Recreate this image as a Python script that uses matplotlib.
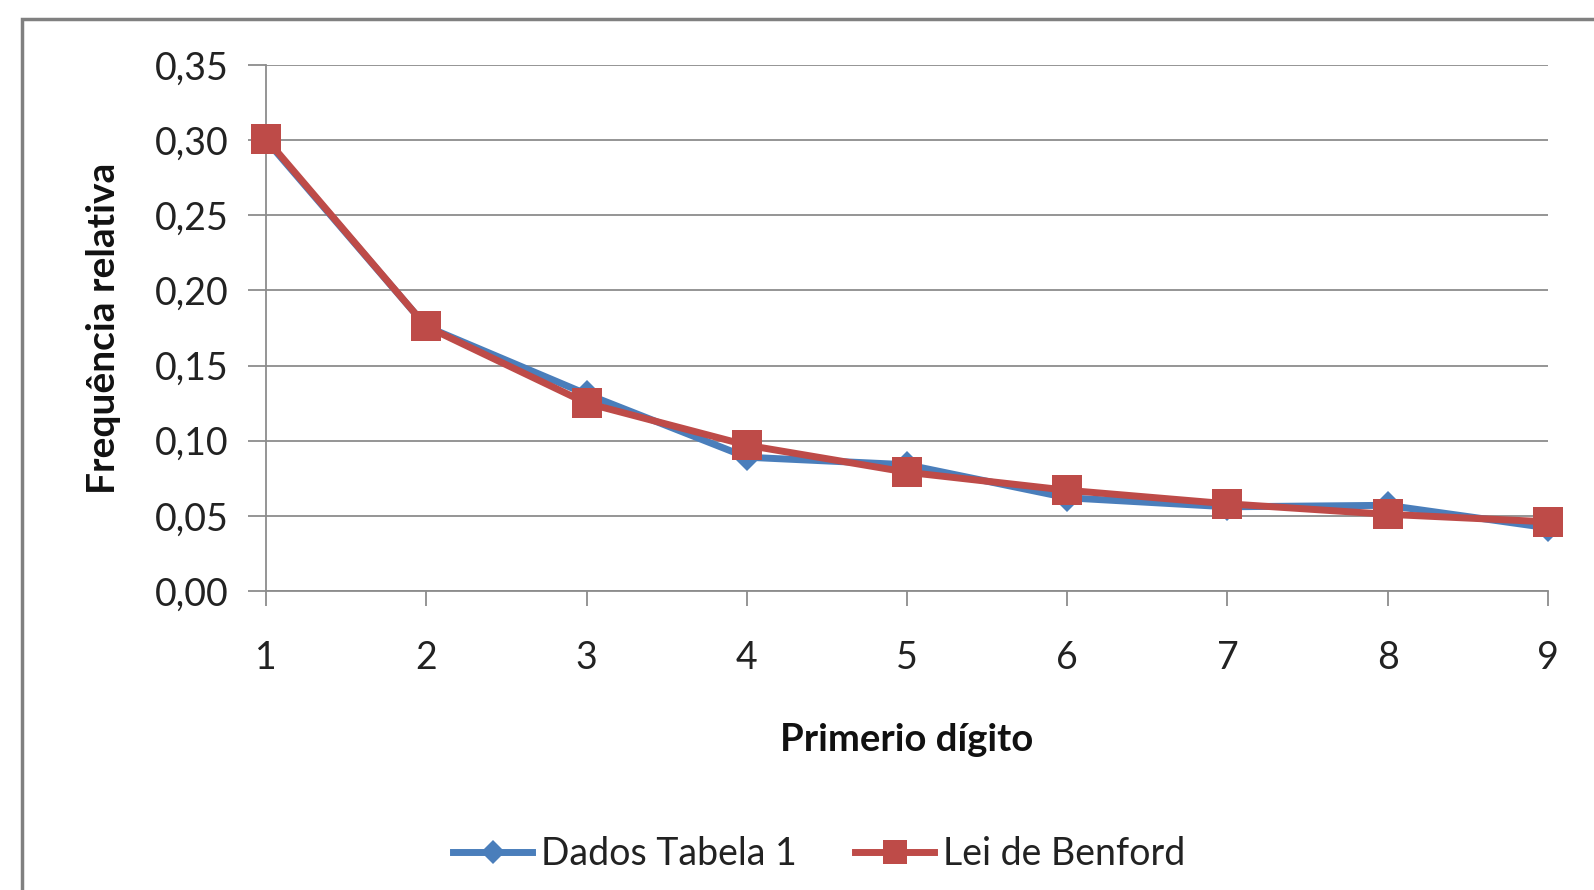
import matplotlib
matplotlib.use("Agg")
import matplotlib.pyplot as plt
from matplotlib.patches import Rectangle
from matplotlib.ticker import FuncFormatter

plt.rcParams['font.family'] = ['Lato', 'DejaVu Sans']

digits = [1, 2, 3, 4, 5, 6, 7, 8, 9]
dados_tabela = [0.300, 0.176, 0.131, 0.089, 0.084, 0.062, 0.056, 0.057, 0.042]
lei_benford = [0.301, 0.176, 0.125, 0.097, 0.079, 0.067, 0.058, 0.051, 0.046]
y_ticks = [0.00, 0.05, 0.10, 0.15, 0.20, 0.25, 0.30, 0.35]

blue = '#4A7EBB'
red = '#BE4B48'
grid_col = '#8C8C8C'
text_col = '#222222'

fig = plt.figure(figsize=(15.94, 8.90), dpi=100)
ax = fig.add_axes([0.1669, 0.336, 0.8042, 0.591])

# outer chart frame (left and top edges visible)
fig.patches.append(Rectangle((22 / 1594, -0.1), 1.2, 1 - 19 / 890 + 0.1,
                             transform=fig.transFigure, fill=False,
                             edgecolor='#808080', linewidth=2.5))

ax.plot(digits, dados_tabela, color=blue, linewidth=5, marker='D',
        markersize=14, markeredgewidth=0, clip_on=False, zorder=3,
        label='Dados Tabela 1')
ax.plot(digits, lei_benford, color=red, linewidth=5, marker='s',
        markersize=21, markeredgewidth=0, clip_on=False, zorder=4,
        label='Lei de Benford')

ax.set_xlim(1, 9)
ax.set_ylim(0, 0.35)
ax.set_xticks(digits)
ax.set_yticks(y_ticks)
ax.yaxis.set_major_formatter(FuncFormatter(lambda v, p: f'{v:.2f}'.replace('.', ',')))

ax.grid(axis='y', color=grid_col, linewidth=1.3)
ax.set_axisbelow(True)
for s in ['top', 'right']:
    ax.spines[s].set_visible(False)
for s in ['left', 'bottom']:
    ax.spines[s].set_color(grid_col)
    ax.spines[s].set_linewidth(1.3)

ax.tick_params(axis='y', direction='out', length=13, width=1.3, color=grid_col,
               labelsize=27, pad=14, labelcolor=text_col)
ax.tick_params(axis='x', direction='out', length=11, width=1.3, color=grid_col,
               labelsize=27, pad=24, labelcolor=text_col)

ax.set_xlabel('Primerio dígito', fontsize=27.5, fontweight='bold', labelpad=34,
              color='#111111')
ax.set_ylabel('Frequência relativa', fontsize=28, fontweight='bold', labelpad=24,
              color='#111111')

leg = fig.legend(loc='center', bbox_to_anchor=(0.514, 0.040), ncol=2, frameon=False,
                 fontsize=27, handlelength=2.1, handletextpad=0.25,
                 columnspacing=1.55, markerscale=0.85)
for t in leg.get_texts():
    t.set_color(text_col)

fig.savefig('out.png', dpi=100, facecolor='white')
